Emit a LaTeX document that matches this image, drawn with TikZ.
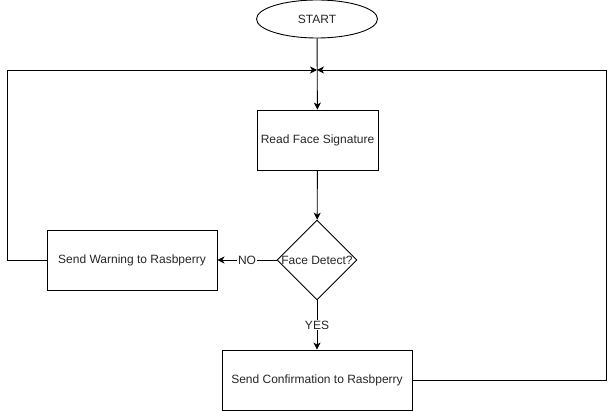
\documentclass[tikz,border=0pt]{standalone}
\usepackage{fontspec}
\setmainfont{Liberation Sans}
\usetikzlibrary{shapes.geometric,arrows.meta}
\begin{document}
\begin{tikzpicture}[x=1pt,y=-1pt,
  every node/.style={font=\fontsize{12}{14}\selectfont, text=black!85},
  box/.style={draw, line width=0.9pt, rectangle, inner sep=0pt},
  link/.style={draw, line width=0.9pt, -{Stealth[length=7pt,width=7pt,inset=2pt]}},
  plain/.style={draw, line width=0.9pt}]
\useasboundingbox (0,0) rectangle (616,411);
\node[draw, line width=0.9pt, ellipse, minimum width=121pt, minimum height=38pt, inner sep=0pt] (start) at (317,19) {START};
\node[box, minimum width=121pt, minimum height=60pt] (read) at (317.5,140) {Read Face Signature};
\node[draw, line width=0.9pt, diamond, minimum width=80pt, minimum height=80pt, inner sep=0pt] (dec) at (317,260) {Face Detect?};
\node[box, minimum width=170pt, minimum height=60pt] (warn) at (132,260) {Send Warning to Rasbperry};
\node[box, minimum width=190pt, minimum height=60pt] (conf) at (317,380) {Send Confirmation to Rasbperry};
\coordinate (m) at (317,70);
\coordinate (lt) at (7,70);
\coordinate (lb) at (7,260);
\coordinate (rt) at (606,70);
\coordinate (rb) at (606,380);
\draw[link] (start) -- (read);
\draw[link] (read) -- (dec);
\draw[link] (dec.west) -- node[fill=white, inner sep=1pt] {NO} (warn.east);
\draw[link] (dec.south) -- node[fill=white, inner sep=1pt, pos=0.5] {YES} (conf.north);
\draw[link] (warn.west) -- (lb) -- (lt) -- (m);
\draw[link] (conf.east) -- (rb) -- (rt) -- (m);
\end{tikzpicture}
\end{document}
